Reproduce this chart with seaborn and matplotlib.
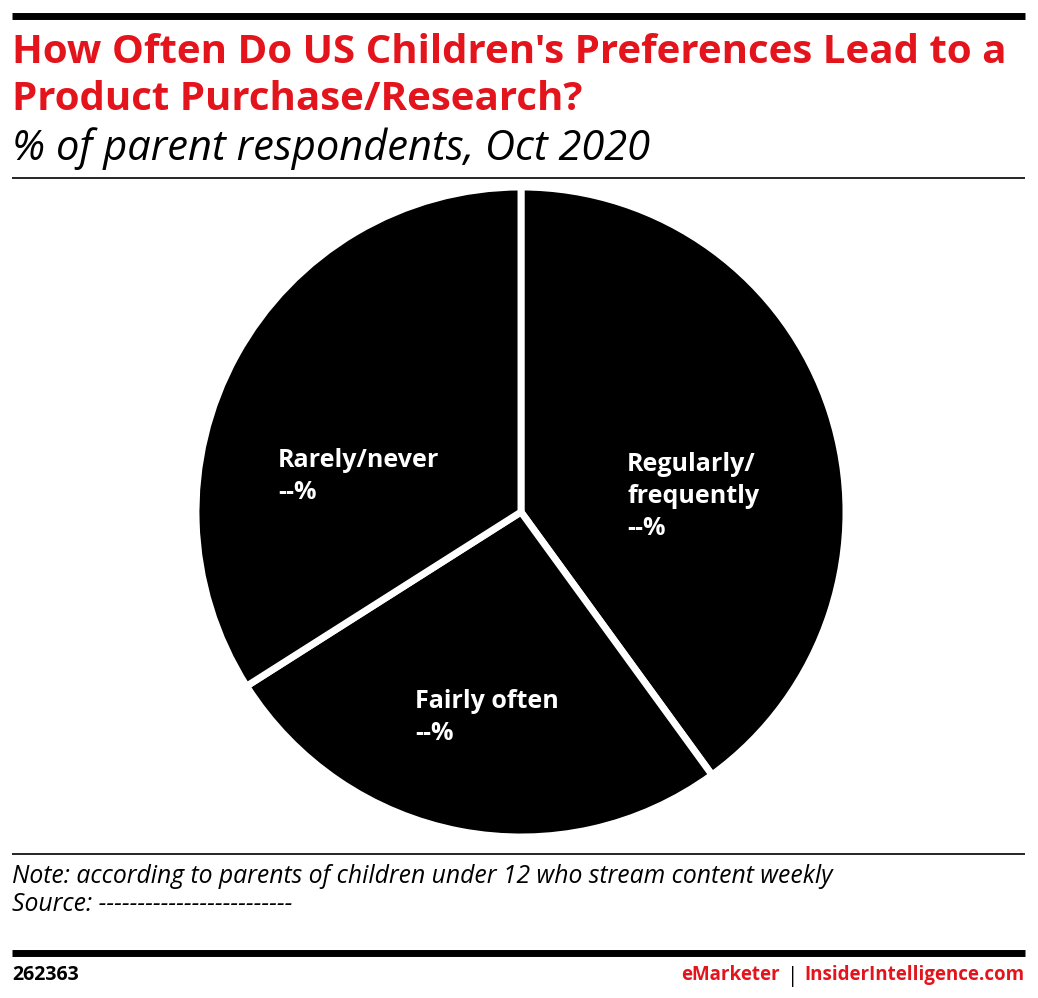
import matplotlib
matplotlib.use("Agg")
import matplotlib.pyplot as plt
import seaborn as sns

categories = ["Regularly/\nfrequently", "Fairly often", "Rarely/never"]
values = [40, 26, 34]
value_labels = ["--%", "--%", "--%"]

title = "How Often Do US Children's Preferences Lead to a\nProduct Purchase/Research?"
subtitle = "% of parent respondents, Oct 2020"
note = "Note: according to parents of children under 12 who stream content weekly"
source = "Source: -------------------------"
chart_id = "262363"

RED = "#e3141b"
FONT = "Open Sans"

sns.set_theme(style="white")
plt.rcParams["font.family"] = [FONT, "DejaVu Sans"]

W, H = 1038, 998
fig = plt.figure(figsize=(W / 100, H / 100), dpi=100)

def fx(x):
    return x / W

def fy(y):
    return 1 - y / H

# header / footer rules
def hline(y, lw):
    fig.add_artist(plt.Line2D([fx(12), fx(1025)], [fy(y), fy(y)], color="black", lw=lw, solid_capstyle="butt"))

hline(16, 5.0)
hline(178, 1.2)
hline(854, 1.2)
hline(953, 5.0)

t_lines = title.split("\n")
fig.text(fx(12), fy(63), t_lines[0], color=RED, fontsize=29, fontweight="bold", va="baseline", ha="left")
fig.text(fx(12), fy(110), t_lines[1], color=RED, fontsize=29, fontweight="bold", va="baseline", ha="left")
fig.text(fx(12), fy(160), subtitle, color="black", fontsize=30, style="italic", va="baseline", ha="left")

# pie
cx, cy, r = 521, 512, 325
ax = fig.add_axes([fx(cx - r), fy(cy + r), 2 * r / W, 2 * r / H])
wedges, _ = ax.pie(values, startangle=90, counterclock=False, colors=["black"] * len(values),
                   wedgeprops=dict(edgecolor="white", linewidth=5))
ax.set_xlim(-1, 1)
ax.set_ylim(-1, 1)
ax.set_aspect("equal")
ax.axis("off")

label_pos = [(627, 471), (415, 708), (278, 467)]
for (x, y), cat, val in zip(label_pos, categories, value_labels):
    lines = cat.split("\n") + [val]
    for i, line in enumerate(lines):
        fig.text(fx(x), fy(y + i * 32), line, color="white", fontsize=18, fontweight="bold",
                 va="baseline", ha="left")

fig.text(fx(12), fy(883), note, color="black", fontsize=17.8, style="italic", va="baseline", ha="left")
fig.text(fx(12), fy(911), source, color="black", fontsize=17.8, style="italic", va="baseline", ha="left")

fig.text(fx(12), fy(980), chart_id, color="black", fontsize=14, fontweight="bold", va="baseline", ha="left")
t1 = fig.text(fx(1025), fy(980), "InsiderIntelligence.com", color=RED, fontsize=13.5, fontweight="bold",
              va="baseline", ha="right")
fig.canvas.draw()
bb = t1.get_window_extent()
t2 = fig.text(bb.x0 / W - fx(7), fy(982), "|", color="black", fontsize=15, va="baseline", ha="right")
fig.canvas.draw()
bb2 = t2.get_window_extent()
fig.text(bb2.x0 / W - fx(7), fy(980), "eMarketer", color=RED, fontsize=13.5, fontweight="bold",
         va="baseline", ha="right")

fig.savefig("out.png", dpi=100, facecolor="white")
